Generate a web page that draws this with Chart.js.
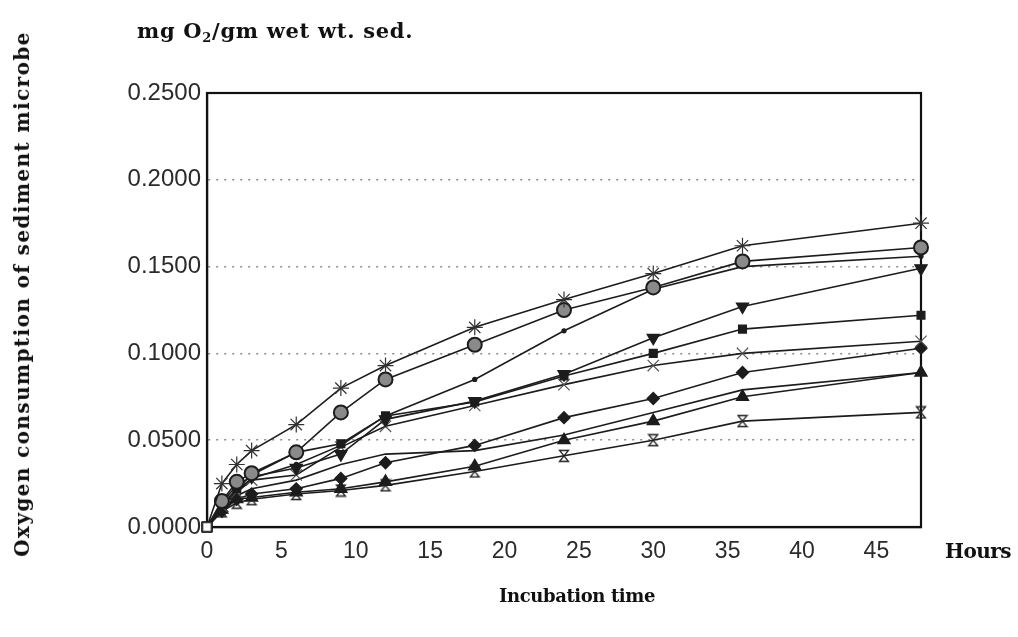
<!DOCTYPE html>
<html>
<head>
<meta charset="utf-8">
<script src="https://cdn.jsdelivr.net/npm/chart.js@4/dist/chart.umd.min.js"></script>
<style>
  body { margin: 0; background: #fff; }
  #wrap { position: relative; width: 1018px; height: 637px; overflow: hidden; }
  #grafico { position: absolute; left: 0; top: 0; }
  .lbl { position: absolute; font-family: "DejaVu Serif", serif; font-weight: bold; color: #111; white-space: nowrap; }
  #unidade { left: 137px; top: 18px; font-size: 21px; letter-spacing: 0.7px; }
  #unidade sub { font-size: 13px; vertical-align: -4px; }
  #horas { left: 945px; top: 539px; font-size: 20px; letter-spacing: -0.5px; }
  #tempo { left: 499px; top: 585px; font-size: 18px; letter-spacing: -0.4px; }
  #eixoY { left: 22px; top: 294px; font-size: 20px; transform: translate(-50%, -50%) rotate(-90deg); letter-spacing: 1.4px; }
</style>
</head>
<body>
<div id="wrap">
  <canvas id="grafico" width="1018" height="637"></canvas>
  <div class="lbl" id="unidade">mg O<sub>2</sub>/gm wet wt. sed.</div>
  <div class="lbl" id="horas">Hours</div>
  <div class="lbl" id="tempo">Incubation time</div>
  <div class="lbl" id="eixoY">Oxygen consumption of sediment microbe</div>
</div>
<script>
// tempo de incubação (h)
const horas = [0, 1, 2, 3, 6, 9, 12, 18, 24, 30, 36, 48];
const yTicks = [0, 0.05, 0.10, 0.15, 0.20, 0.25];

// consumo de O2 por série (mg O2 / g sed.)
const serieEstrela   = [0, 0.025, 0.036, 0.044, 0.059, 0.080, 0.093, 0.115, 0.131, 0.146, 0.162, 0.175];
const serieCirculo   = [0, 0.015, 0.026, 0.031, 0.043, 0.066, 0.085, 0.105, 0.125, 0.138, 0.153, 0.161];
const seriePonto     = [0, 0.012, 0.021, 0.028, 0.036, 0.047, 0.064, 0.085, 0.113, 0.137, 0.150, 0.156];
const serieTriBaixo  = [0, 0.014, 0.024, 0.029, 0.034, 0.042, 0.062, 0.0725, 0.088, 0.109, 0.127, 0.149];
const serieQuadrado  = [0, 0.013, 0.022, 0.030, 0.043, 0.048, 0.064, 0.072, 0.087, 0.100, 0.114, 0.122];
const serieX         = [0, 0.012, 0.020, 0.027, 0.030, 0.046, 0.058, 0.070, 0.082, 0.093, 0.100, 0.107];
const serieLosango   = [0, 0.009, 0.016, 0.019, 0.022, 0.028, 0.037, 0.047, 0.063, 0.074, 0.089, 0.103];
const serieLinha     = [0, 0.010, 0.018, 0.022, 0.027, 0.036, 0.042, 0.044, 0.053, 0.066, 0.079, 0.089];
const serieTriCima   = [0, 0.010, 0.016, 0.017, 0.020, 0.022, 0.026, 0.035, 0.050, 0.061, 0.075, 0.089];
const serieAmpulheta = [0, 0.009, 0.014, 0.016, 0.019, 0.021, 0.024, 0.032, 0.041, 0.050, 0.061, 0.066];

// marcador em ampulheta (vazado)
const ampulheta = document.createElement('canvas');
ampulheta.width = 12; ampulheta.height = 14;
(function () {
    const c = ampulheta.getContext('2d');
    c.strokeStyle = '#222';
    c.lineWidth = 1.3;
    c.beginPath();
    c.moveTo(1.5, 1.5); c.lineTo(10.5, 1.5); c.lineTo(1.5, 12.5); c.lineTo(10.5, 12.5); c.closePath();
    c.stroke();
})();

const cor = '#1c1c1c';

function serie(valores, estilo, extra) {
    return Object.assign({
        data: horas.map((h, i) => ({ x: h, y: valores[i] })),
        borderColor: cor,
        borderWidth: 1.6,
        pointStyle: ctx => ctx.dataIndex === 0 ? 'rect' : estilo,
        pointBackgroundColor: ctx => ctx.dataIndex === 0 ? '#fff' : cor,
        pointBorderColor: cor,
        pointBorderWidth: ctx => ctx.dataIndex === 0 ? 2 : 1.3,
        pointRadius: ctx => ctx.dataIndex === 0 ? 6 : 5,
        tension: 0,
        clip: false
    }, extra || {});
}

const datasets = [
    serie(serieEstrela, 'star', { pointRadius: ctx => ctx.dataIndex === 0 ? 6 : 8, pointBorderColor: '#333', pointBorderWidth: 1.2 }),
    serie(serieCirculo, 'circle', { pointRadius: ctx => ctx.dataIndex === 0 ? 6 : 7, pointBackgroundColor: ctx => ctx.dataIndex === 0 ? '#fff' : '#8a8a8a', pointBorderWidth: 2 }),
    serie(seriePonto, 'circle', { pointRadius: ctx => ctx.dataIndex === 0 ? 6 : 2 }),
    serie(serieTriBaixo, 'triangle', { pointRadius: ctx => ctx.dataIndex === 0 ? 6 : 7, pointRotation: ctx => ctx.dataIndex === 0 ? 0 : 180 }),
    serie(serieQuadrado, 'rect', { pointRadius: ctx => ctx.dataIndex === 0 ? 6 : 5.5 }),
    serie(serieX, 'crossRot', { pointRadius: ctx => ctx.dataIndex === 0 ? 6 : 8, pointBorderColor: '#555', pointBorderWidth: 1.2 }),
    serie(serieLosango, 'rectRot', { pointRadius: ctx => ctx.dataIndex === 0 ? 6 : 6 }),
    serie(serieLinha, 'circle', { pointRadius: ctx => ctx.dataIndex === 0 ? 6 : 0 }),
    serie(serieTriCima, 'triangle', { pointRadius: ctx => ctx.dataIndex === 0 ? 6 : 7 }),
    serie(serieAmpulheta, ampulheta, { pointBackgroundColor: ctx => ctx.dataIndex === 0 ? '#fff' : 'transparent' })
];

// moldura completa da área do gráfico
const moldura = {
    id: 'moldura',
    beforeDatasetsDraw(chart) {
        const { ctx, chartArea: a } = chart;
        ctx.save();
        ctx.setLineDash([]);
        ctx.strokeStyle = '#111';
        ctx.lineWidth = 2.2;
        ctx.strokeRect(a.left, a.top, a.right - a.left, a.bottom - a.top);
        ctx.restore();
    }
};

new Chart(document.getElementById('grafico'), {
    type: 'line',
    data: { datasets },
    options: {
        responsive: false,
        animation: false,
        events: [],
        layout: { padding: { top: 93, right: 97, left: 0, bottom: 0 } },
        plugins: { legend: { display: false }, tooltip: { enabled: false } },
        scales: {
            x: {
                type: 'linear',
                min: 0,
                max: 48,
                afterFit: s => { s.height = 110; },
                afterBuildTicks: s => { s.ticks = s.ticks.filter(t => t.value % 5 === 0); },
                ticks: {
                    stepSize: 5,
                    padding: 11,
                    color: '#2b2b2b',
                    font: { family: 'Liberation Sans, Arial, sans-serif', size: 23 }
                },
                grid: { display: false, drawTicks: false },
                border: { display: true, color: '#111', width: 2.2 }
            },
            y: {
                min: 0,
                max: 0.25,
                afterFit: s => { s.width = 207; },
                afterBuildTicks: s => { s.ticks = yTicks.map(v => ({ value: v })); },
                ticks: {
                    padding: 6,
                    color: '#2b2b2b',
                    font: { family: 'Liberation Sans, Arial, sans-serif', size: 24 },
                    callback: v => v.toFixed(4)
                },
                grid: {
                    drawTicks: false,
                    color: ctx => (ctx.tick && ctx.tick.value > 0 && ctx.tick.value < 0.25) ? '#8a8a8a' : 'rgba(0,0,0,0)',
                    lineWidth: 1.5
                },
                // em v4 o tracejado das linhas de grade vem de border.dash
                border: { display: true, color: '#111', width: 2.2, dash: [2, 6] }
            }
        }
    },
    plugins: [moldura]
});
</script>
</body>
</html>
